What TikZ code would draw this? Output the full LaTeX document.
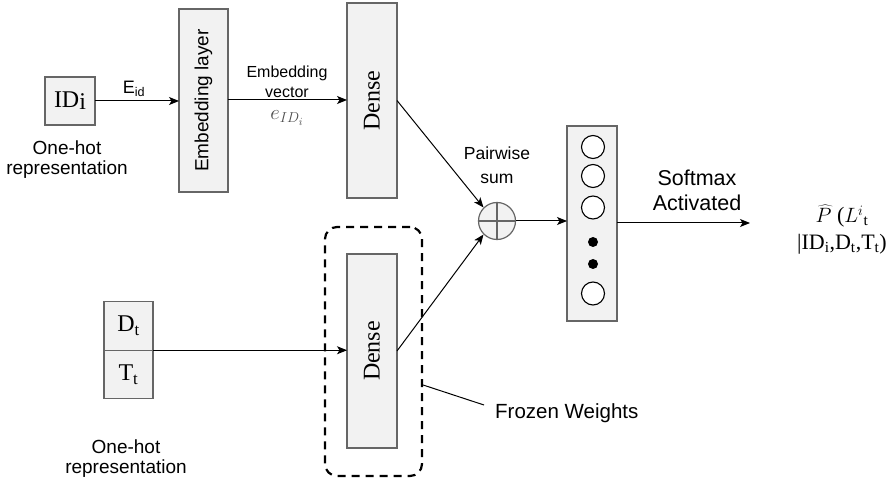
\documentclass[tikz,border=0pt]{standalone}
\usepackage{fontspec}
\setmainfont{Liberation Serif}
\setsansfont{Liberation Sans}
\usetikzlibrary{arrows.meta}
\definecolor{boxfill}{HTML}{F2F2F2}
\definecolor{boxline}{HTML}{666666}
\begin{document}
\begin{tikzpicture}[x=1pt,y=-1pt,
  box/.style={draw=boxline,fill=boxfill,line width=1.2pt,inner sep=0pt,outer sep=0pt},
  arr/.style={-{Stealth[length=10pt,width=8pt,inset=2.5pt]},line width=1pt},
  lbl/.style={font=\sffamily\fontsize{19}{21}\selectfont,align=center,inner sep=0pt},
  slbl/.style={font=\sffamily\fontsize{16}{20}\selectfont,align=center,inner sep=0pt},
  ser/.style={font=\rmfamily\fontsize{24}{26}\selectfont},
  neuron/.style={circle,draw=black,line width=1.1pt,fill=white,minimum size=23pt,inner sep=0pt},
  dotn/.style={circle,fill=black,minimum size=10pt,inner sep=0pt}
]
\useasboundingbox (0,0) rectangle (892,481);

% ID box
\node[box,minimum width=50pt,minimum height=48pt,ser] (id) at (70,101) {ID\raisebox{-2pt}{i}};
\node[lbl] (oh1) at (67,160) {One-hot\\[-1pt]representation};

% Embedding layer
\node[box,minimum width=49pt,minimum height=183pt] (emb) at (203.5,100.5) {};
\node[lbl,rotate=90] (embt) at (emb.center) {Embedding layer};

% Dense 1
\node[box,minimum width=50pt,minimum height=195pt] (d1) at (372,100.5) {};
\node[ser,rotate=90,inner sep=0pt] (d1t) at (d1.center) {Dense};

% Dense 2 + frozen box
\node[box,minimum width=50pt,minimum height=194pt] (d2) at (372,351) {};
\node[ser,rotate=90,inner sep=0pt] (d2t) at (d2.center) {Dense};
\node[draw=black,dashed,dash pattern=on 8pt off 6pt,line width=2.2pt,rounded corners=12pt,
      minimum width=97pt,minimum height=249pt,inner sep=0pt] (frz) at (373.5,351.5) {};

% D_t / T_t box
\node[box,minimum width=49pt,minimum height=48.5pt,ser] (dt) at (128.5,326) {D\textsubscript{t}};
\node[box,minimum width=49pt,minimum height=48.5pt,ser] (tt) at (128.5,374.5) {T\textsubscript{t}};
\node[lbl] (oh2) at (126,459) {One-hot\\[-1pt]representation};

% pairwise sum
\node[circle,draw=boxline,fill=boxfill,line width=1.2pt,minimum size=37pt,inner sep=0pt] (sum) at (497,221) {};
\draw[boxline,line width=1.2pt] (sum.north) -- (sum.south) (sum.west) -- (sum.east);
\node[slbl,font=\sffamily\fontsize{17.5}{24}\selectfont] (pws) at (497,165) {Pairwise\\sum};

% output layer
\node[box,minimum width=50pt,minimum height=195pt] (out) at (592,223.5) {};
\node[neuron] (n1) at (593,147) {};
\node[neuron] (n2) at (593,176) {};
\node[neuron] (n3) at (593,207.5) {};
\node[dotn] (n4) at (593,242) {};
\node[dotn] (n5) at (593,264) {};
\node[neuron] (n6) at (593,293.5) {};

% labels on connectors
\node[font=\sffamily\fontsize{18}{20}\selectfont,inner sep=0pt] (eid) at (134,89) {E\textsubscript{id}};
\node[slbl] (ev) at (287,82) {Embedding\\vector};
\node[text=black!70,inner sep=0pt,font=\fontsize{21}{24}\selectfont] (evm) at (287,118) {$e_{ID_i}$};
\node[lbl,font=\sffamily\fontsize{21.5}{25}\selectfont] (smx) at (697,190.5) {Softmax\\Activated};
\node[inner sep=0pt,align=center,font=\rmfamily\fontsize{22}{26}\selectfont] (ph) at (842,230)
  {$\widehat{P}$ ($L^{i}{}$\textsubscript{t}\\[1pt] |ID\textsubscript{i},D\textsubscript{t},T\textsubscript{t})};
\node[font=\sffamily\fontsize{20.5}{24}\selectfont,anchor=west,inner sep=0pt] (fw) at (495,413) {Frozen Weights};

% connectors
\draw[arr] (id.east) -- (id.east -| emb.west);
\draw[arr] (emb.east |- 0,100) -- (d1.west |- 0,100);
\draw[arr] (d1.east) -- (sum.north west);
\draw[arr] (d2.east) -- (sum.south west);
\draw[arr] (dt.south east) -- (dt.south east -| d2.west);
\draw[arr] (sum.east) -- (sum.east -| out.west);
\coordinate (pend) at (750,223);
\draw[arr] (out.east |- pend) -- (pend);
\coordinate (fwl) at (484,405);
\draw[line width=1pt] (frz.east |- 0,385) -- (fwl);
\end{tikzpicture}
\end{document}
